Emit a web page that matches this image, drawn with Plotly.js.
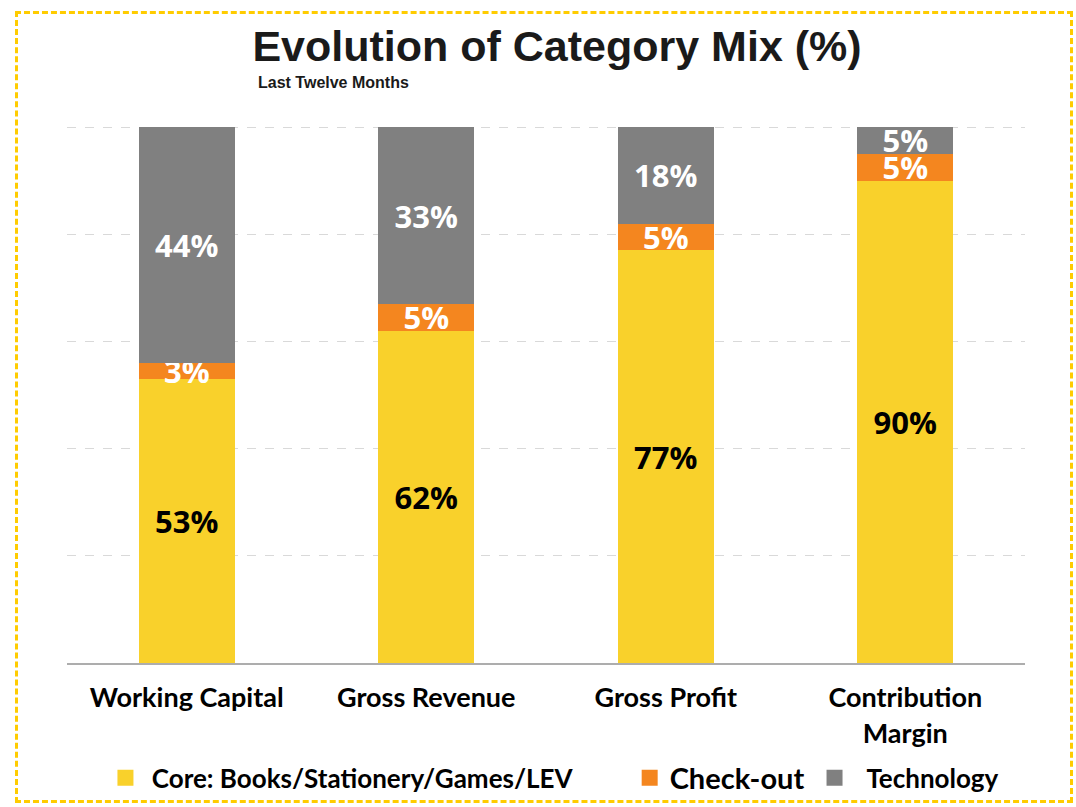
<!DOCTYPE html>
<html>
<head>
<meta charset="utf-8">
<script src="https://cdn.plot.ly/plotly-3.0.1.min.js"></script>
<style>
  html, body { margin: 0; padding: 0; background: #ffffff; }
  #wrap { position: relative; width: 1076px; height: 807px; }
  #frame { position: absolute; left: 15px; top: 11px; width: 1052px; height: 786px;
           border: 3px dashed #FFCC00; pointer-events: none; z-index: 5; }
  #chart { position: absolute; left: 0; top: 0; width: 1076px; height: 807px; }
</style>
</head>
<body>
<div id="wrap">
  <div id="chart"></div>
  <div id="frame"></div>
</div>
<script>
// ---- data ----
const categories = ["Working Capital", "Gross Revenue", "Gross Profit", "Contribution<br>Margin"];
const coreValues = [53, 62, 77, 90];
const checkoutValues = [3, 5, 5, 5];
const technologyValues = [44, 33, 18, 5];
const seriesNames = ["Core: Books/Stationery/Games/LEV", "Check-out", "Technology"];

const colors = { core: "#F9D12B", checkout: "#F4861F", tech: "#808080" };
const pct = v => v.map(x => x + "%");
const labelFont = "Open Sans, Lato, sans-serif";

function barTrace(vals, name, color, txtColor, legendId) {
  return {
    type: "bar", x: categories, y: vals, name: name,
    marker: { color: color },
    text: pct(vals), textposition: "inside", insidetextanchor: "middle",
    textangle: 0, constraintext: "none",
    insidetextfont: { family: labelFont, size: 31, color: txtColor, weight: 700 },
    hoverinfo: "skip", legend: legendId, showlegend: false, cliponaxis: false
  };
}
function legendTrace(name, color, legendId) {
  return {
    type: "scatter", mode: "markers", x: [null], y: [null], name: name,
    marker: { symbol: "square", size: 16, color: color },
    legend: legendId, showlegend: true, hoverinfo: "skip"
  };
}

const traces = [
  barTrace(coreValues, seriesNames[0], colors.core, "#000000", "legend"),
  barTrace(checkoutValues, seriesNames[1], colors.checkout, "#FFFFFF", "legend2"),
  barTrace(technologyValues, seriesNames[2], colors.tech, "#FFFFFF", "legend3"),
  legendTrace("\u00a0" + seriesNames[0], colors.core, "legend"),
  legendTrace(seriesNames[1], colors.checkout, "legend2"),
  legendTrace("\u00a0\u00a0" + seriesNames[2], colors.tech, "legend3")
];

const legFont = s => ({ family: "Lato, sans-serif", size: s, color: "#000000", weight: 700 });
const legBase = { orientation: "h", yref: "container", y: 0.036, yanchor: "middle",
                  xref: "container", xanchor: "left", bgcolor: "rgba(0,0,0,0)", font: legFont(26) };

const layout = {
  width: 1076, height: 807,
  margin: { l: 67, r: 51, t: 126.4, b: 144, pad: 0 },
  paper_bgcolor: "#ffffff", plot_bgcolor: "#ffffff",
  barmode: "stack", bargap: 0.6,
  title: { text: "Evolution of Category Mix (%)", xref: "container", x: 0.5177, xanchor: "center",
           yref: "container", y: 0.943, yanchor: "middle",
           font: { family: "Liberation Sans, Arial, sans-serif", size: 43, color: "#1a1a1a", weight: 700 } },
  annotations: [{
    text: "Last Twelve Months", xref: "paper", yref: "paper", x: 0.197, y: 1.081,
    xanchor: "left", yanchor: "middle", showarrow: false,
    font: { family: "Liberation Sans, Arial, sans-serif", size: 16, color: "#1a1a1a", weight: 700 }
  }],
  xaxis: {
    type: "category", showgrid: false, showline: true, linecolor: "#ADADAD", linewidth: 2,
    ticks: "", tickfont: { family: "Lato, sans-serif", size: 27, color: "#000000", weight: 700 },
    ticklabelstandoff: 10, fixedrange: true
  },
  yaxis: {
    range: [0, 100.2], tickmode: "array", tickvals: [0, 20, 40, 60, 80, 100],
    showticklabels: false, showgrid: true,
    gridcolor: "#D9D9D9", griddash: "dash", gridwidth: 1, zeroline: false, fixedrange: true
  },
  legend: Object.assign({}, legBase, { x: 0.098 }),
  legend2: Object.assign({}, legBase, { x: 0.5852, font: legFont(29) }),
  legend3: Object.assign({}, legBase, { x: 0.757 }),
  showlegend: true
};

Plotly.newPlot("chart", traces, layout, { displayModeBar: false, staticPlot: true });
</script>
</body>
</html>
